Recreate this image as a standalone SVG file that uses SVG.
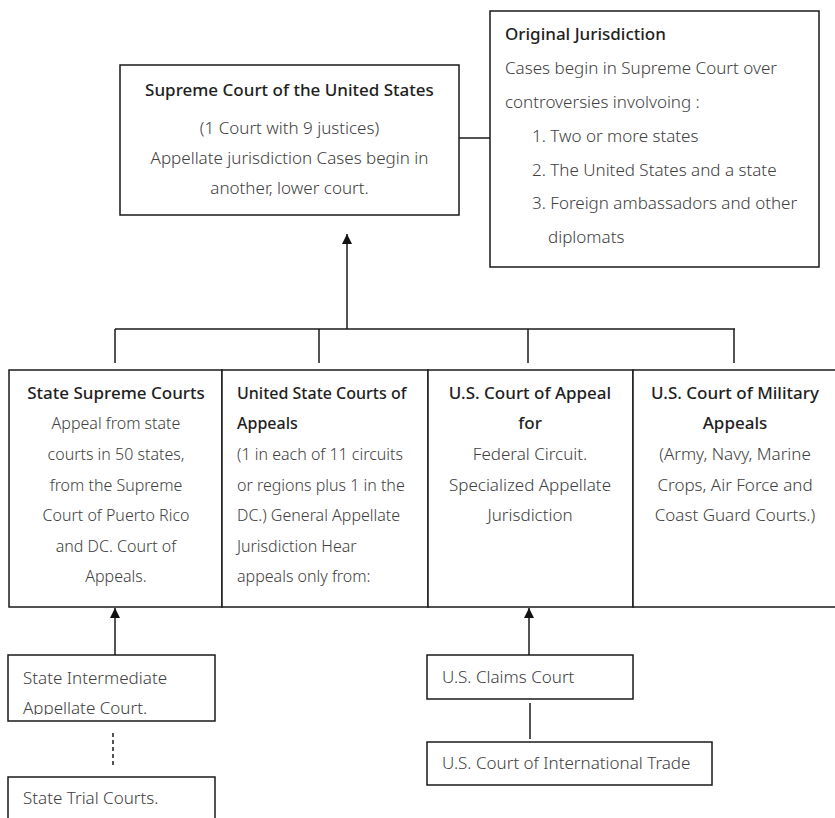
<svg xmlns="http://www.w3.org/2000/svg" width="835" height="818" viewBox="0 0 835 818">
<style>
.box{fill:#fff;stroke:#1a1a1a;stroke-width:1.5}
.ln{fill:none;stroke:#1a1a1a;stroke-width:1.5}
text{font-family:"Noto Sans","Open Sans",sans-serif;fill:#404040}
.t{font-weight:500;fill:#1e1e1e;font-size:17px}
.b{font-size:17px;font-weight:300}
.m{font-size:16px}
.c{text-anchor:middle}
</style>
<defs>
<marker id="ah" viewBox="0 0 10 10" refX="10" refY="5" markerWidth="10" markerHeight="10" markerUnits="userSpaceOnUse" orient="auto"><path d="M0,0 L10,5 L0,10 z" fill="#111"/></marker>
<clipPath id="cp1"><rect x="8" y="655" width="207" height="60"/></clipPath>
</defs>
<g id="connectors">
<line class="ln" x1="459" y1="138" x2="490" y2="138"/>
<line class="ln" x1="347" y1="329" x2="347" y2="234" marker-end="url(#ah)"/>
<line class="ln" x1="115" y1="329" x2="735" y2="329"/>
<line class="ln" x1="115" y1="329" x2="115" y2="363"/>
<line class="ln" x1="319" y1="329" x2="319" y2="363"/>
<line class="ln" x1="528" y1="329" x2="528" y2="363"/>
<line class="ln" x1="734" y1="329" x2="734" y2="363"/>
<line class="ln" x1="115" y1="655" x2="115" y2="608" marker-end="url(#ah)"/>
<line class="ln" x1="113" y1="733" x2="113" y2="767" stroke-dasharray="4,3"/>
<line class="ln" x1="529" y1="655" x2="529" y2="608" marker-end="url(#ah)"/>
<line class="ln" x1="530" y1="703" x2="530" y2="739"/>
</g>
<g id="supreme">
<rect class="box" x="120" y="65" width="339" height="150"/>
<text class="t c" x="289.5" y="96">Supreme Court of the United States</text>
<text class="b c" x="289.5" y="134">(1 Court with 9 justices)</text>
<text class="b c" x="289.5" y="164">Appellate jurisdiction Cases begin in</text>
<text class="b c" x="289.5" y="194">another, lower court.</text>
</g>
<g id="original">
<rect class="box" x="490" y="11" width="329" height="256"/>
<text class="t" x="505" y="40">Original Jurisdiction</text>
<text class="b" x="505" y="74">Cases begin in Supreme Court over</text>
<text class="b" x="505" y="108">controversies involvoing :</text>
<text class="b" x="532" y="142">1. Two or more states</text>
<text class="b" x="532" y="176">2. The United States and a state</text>
<text class="b" x="532" y="209">3. Foreign ambassadors and other</text>
<text class="b" x="548" y="243">diplomats</text>
</g>
<g id="state-supreme">
<rect class="box" x="9" y="370" width="213" height="237"/>
<text class="t c" x="116" y="399">State Supreme Courts</text>
<text class="b m c" x="116" y="429">Appeal from state</text>
<text class="b m c" x="116" y="460">courts in 50 states,</text>
<text class="b m c" x="116" y="491">from the Supreme</text>
<text class="b m c" x="116" y="521">Court of Puerto Rico</text>
<text class="b m c" x="116" y="552">and DC. Court of</text>
<text class="b m c" x="116" y="582">Appeals.</text>
</g>
<g id="us-appeals">
<rect class="box" x="222" y="370" width="206" height="237"/>
<text class="t m" x="237" y="399">United State Courts of</text>
<text class="t m" x="237" y="429">Appeals</text>
<text class="b m" x="237" y="460">(1 in each of 11 circuits</text>
<text class="b m" x="237" y="491">or regions plus 1 in the</text>
<text class="b m" x="237" y="521">DC.) General Appellate</text>
<text class="b m" x="237" y="552">Jurisdiction Hear</text>
<text class="b m" x="237" y="582">appeals only from:</text>
</g>
<g id="federal-circuit">
<rect class="box" x="428" y="370" width="205" height="237"/>
<text class="t c" x="530" y="399">U.S. Court of Appeal</text>
<text class="t c" x="530" y="429">for</text>
<text class="b c" x="530" y="460">Federal Circuit.</text>
<text class="b c" x="530" y="491">Specialized Appellate</text>
<text class="b c" x="530" y="521">Jurisdiction</text>
</g>
<g id="military">
<rect class="box" x="633" y="370" width="210" height="237"/>
<text class="t c" x="735" y="399">U.S. Court of Military</text>
<text class="t c" x="735" y="429">Appeals</text>
<text class="b c" x="735" y="460">(Army, Navy, Marine</text>
<text class="b c" x="735" y="491">Crops, Air Force and</text>
<text class="b c" x="735" y="521">Coast Guard Courts.)</text>
</g>
<g id="state-intermediate">
<rect class="box" x="8" y="655" width="207" height="66"/>
<g clip-path="url(#cp1)">
<text class="b" x="23" y="684">State Intermediate</text>
<text class="b" x="23" y="714">Appellate Court.</text>
</g>
</g>
<g id="state-trial">
<rect class="box" x="8" y="777" width="207" height="50"/>
<text class="b" x="23" y="804">State Trial Courts.</text>
</g>
<g id="claims">
<rect class="box" x="427" y="655" width="206" height="44"/>
<text class="b" x="442" y="683">U.S. Claims Court</text>
</g>
<g id="intl-trade">
<rect class="box" x="427" y="742" width="285" height="43"/>
<text class="b" x="442" y="769">U.S. Court of International Trade</text>
</g>
</svg>
